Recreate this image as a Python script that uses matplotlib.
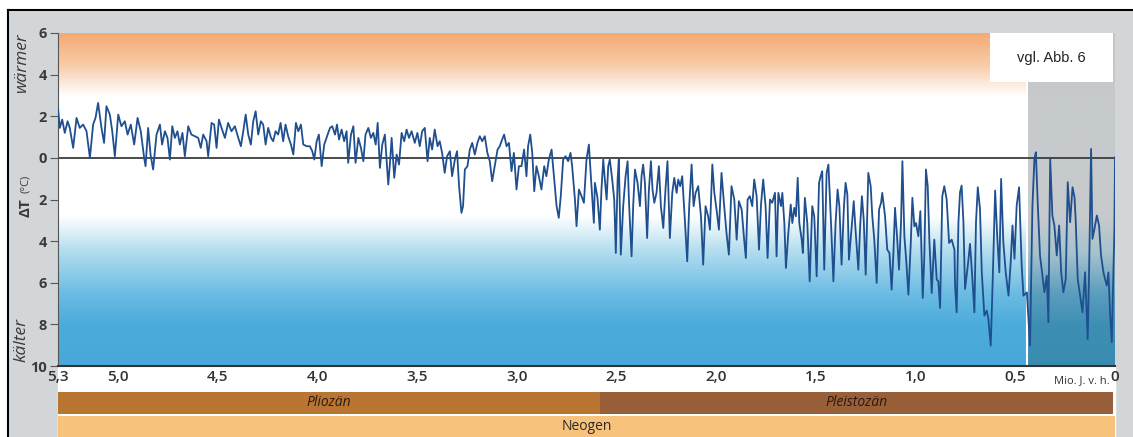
import numpy as np
import matplotlib.pyplot as plt
from matplotlib.patches import Rectangle
from matplotlib.colors import to_rgb
from matplotlib.lines import Line2D

plt.rcParams['font.family'] = ['Open Sans', 'DejaVu Sans']

# Temperaturabweichung (deg C) gegen Alter (Mio. Jahre vor heute)
plio_age = [5.300, 5.291, 5.279, 5.266, 5.252, 5.241, 5.224, 5.207, 5.191, 5.174,
            5.157, 5.140, 5.124, 5.112, 5.099, 5.082, 5.069, 5.057, 5.040, 5.028,
            5.015, 4.998, 4.982, 4.965, 4.951, 4.935, 4.918, 4.901, 4.885, 4.868,
            4.861, 4.848, 4.836, 4.823, 4.806, 4.789, 4.778, 4.764, 4.751, 4.739,
            4.727, 4.714, 4.701, 4.689, 4.676, 4.664, 4.647, 4.631, 4.614, 4.597,
            4.584, 4.572, 4.555, 4.547, 4.530, 4.517, 4.505, 4.493, 4.480, 4.463,
            4.447, 4.430,
            4.413, 4.396, 4.383, 4.371, 4.359, 4.346, 4.333, 4.321, 4.309, 4.296,
            4.283, 4.271, 4.259, 4.246, 4.232, 4.221, 4.209, 4.196, 4.184, 4.171,
            4.159, 4.146, 4.132, 4.120, 4.107, 4.095, 4.082, 4.070, 4.053, 4.037,
            4.025, 4.015, 4.003, 3.992, 3.978, 3.965, 3.948, 3.936, 3.925, 3.911,
            3.901, 3.891, 3.878, 3.865, 3.853, 3.845, 3.831, 3.819, 3.808, 3.794,
            3.781, 3.769, 3.758, 3.744, 3.731, 3.719, 3.707, 3.697, 3.686, 3.674,
            3.661, 3.652, 3.644, 3.636, 3.627, 3.614, 3.602, 3.590, 3.577, 3.564,
            3.552, 3.540, 3.527,
            3.511, 3.498, 3.486, 3.474, 3.461, 3.447, 3.436, 3.424, 3.411, 3.397,
            3.386, 3.374, 3.361, 3.349, 3.335, 3.324, 3.310, 3.299, 3.289, 3.277,
            3.269, 3.260, 3.247, 3.235, 3.223, 3.210, 3.197, 3.185, 3.173, 3.160,
            3.147, 3.135, 3.123, 3.110, 3.096, 3.085, 3.073, 3.063, 3.051, 3.039,
            3.026, 3.014, 3.001, 2.989, 2.976, 2.963, 2.951, 2.943, 2.932, 2.922,
            2.912, 2.901, 2.889, 2.876, 2.862, 2.851, 2.839, 2.825, 2.812, 2.800,
            2.789, 2.779, 2.767, 2.755, 2.742, 2.730, 2.722, 2.708, 2.700, 2.688,
            2.675, 2.663, 2.650, 2.638, 2.625, 2.613, 2.608, 2.595, 2.583]
plio_dt = [2.40, 1.44, 1.84, 1.20, 1.76, 1.44, 0.48, 1.92, 1.44, 1.60,
           1.28, 0.00, 1.60, 1.92, 2.64, 1.44, 0.72, 2.48, 2.08, 1.28,
           0.08, 2.08, 1.52, 1.76, 1.12, 1.60, 0.64, 1.92, 1.28, 0.00,
           -0.40, 1.44, 0.16, -0.56, 1.12, 1.60, 0.64, 1.28, 0.96, -0.08,
           1.52, 0.96, 1.28, 0.64, 1.20, 0.08, 1.52, 1.12, 1.04, 0.96,
           0.48, 1.12, 0.80, 0.08, 1.68, 1.60, 0.48, 1.84, 1.44, 0.96,
           1.68, 1.28,
           1.52, 0.96, 0.56, 1.28, 2.08, 1.12, 0.64, 1.76, 2.24, 1.12,
           1.76, 1.60, 0.64, 1.44, 0.96, 0.80, 1.28, 1.12, 1.68, 0.80,
           1.60, 1.04, 0.64, 0.16, 1.68, 1.28, 1.60, 0.64, 0.56, 0.56,
           0.32, -0.08, 0.80, 1.12, -0.40, 0.64, 1.12, 1.44, 1.52, 1.12,
           1.60, 0.88, 1.36, 0.80, 1.28, -0.24, 1.12, 1.52, -0.24, 0.96,
           0.48, -0.16, 1.12, 1.44, 0.96, 1.20, 0.64, 1.68, -0.48, 0.64,
           1.12, -0.16, -1.28, -0.32, 0.96, -0.96, 0.16, -0.32, 1.20, 0.80,
           1.36, 0.96, 1.28,
           0.72, 1.20, 0.56, 1.28, 1.44, -0.16, 0.96, 0.40, 1.36, 0.56,
           0.80, 0.24, -0.72, 0.08, 0.32, -0.88, -0.08, 0.32, -1.36, -2.64,
           -2.32, -0.56, -0.40, 0.40, 0.72, 0.16, 0.72, 1.04, 0.80, 1.04,
           0.24, -0.16, -1.12, -0.40, 0.40, 0.56, 0.88, 1.12, 0.56, 0.72,
           -0.64, 0.24, -1.52, -0.40, -0.40, 0.40, -0.88, 0.56, 1.12, 0.24,
           -1.60, -0.40, -0.88, -1.52, -0.40, -0.88, -0.08, 0.40, -1.04, -2.32,
           -2.88, -1.84, -0.08, 0.08, -0.16, 0.24, -0.40, -2.00, -3.28, -1.52,
           -1.84, -2.16, -0.08, 0.64, -1.36, -3.12, -1.20, -1.92, -3.45]

pleisto_age = [2.575, 2.566, 2.558, 2.549, 2.541, 2.533, 2.521, 2.511, 2.503, 2.494,
               2.488, 2.478, 2.466, 2.454, 2.444, 2.436, 2.424, 2.416, 2.407, 2.394,
               2.382, 2.374, 2.366, 2.357, 2.346, 2.337, 2.327, 2.319, 2.310, 2.299,
               2.287, 2.277, 2.265, 2.254, 2.244, 2.232, 2.220, 2.210, 2.198, 2.190,
               2.180, 2.170, 2.157, 2.145, 2.135, 2.123, 2.113, 2.103, 2.090, 2.076,
               2.065, 2.053, 2.040, 2.031, 2.019, 2.009, 1.998, 1.986, 1.973, 1.961,
               1.948, 1.936, 1.923, 1.909, 1.897, 1.886, 1.872, 1.861, 1.851, 1.842,
               1.831, 1.819, 1.809, 1.797, 1.785, 1.775, 1.764, 1.752, 1.742, 1.730,
               1.719,
               1.705, 1.697, 1.688, 1.675, 1.668, 1.658, 1.650, 1.638, 1.626, 1.618,
               1.608, 1.600, 1.591, 1.583, 1.571, 1.565, 1.555, 1.543, 1.531, 1.518,
               1.508, 1.496, 1.484, 1.476, 1.468, 1.458, 1.446, 1.437, 1.424, 1.412,
               1.401, 1.391, 1.382, 1.371, 1.359, 1.351, 1.342, 1.334, 1.320, 1.310,
               1.300, 1.287, 1.277, 1.269, 1.260, 1.250, 1.237, 1.225, 1.217, 1.207,
               1.195, 1.183, 1.173, 1.167, 1.153, 1.142, 1.131, 1.120, 1.111, 1.103,
               1.093, 1.083, 1.073, 1.066, 1.056, 1.046, 1.036, 1.024, 1.016, 1.006,
               0.998, 0.986, 0.976, 0.964, 0.956, 0.948, 0.939, 0.931, 0.919, 0.906,
               0.894, 0.886, 0.877, 0.866, 0.856, 0.844, 0.832, 0.819, 0.805,
               0.802, 0.794, 0.785, 0.777, 0.769, 0.760, 0.752, 0.738, 0.727, 0.715,
               0.705, 0.697, 0.688, 0.677, 0.668, 0.655, 0.643, 0.635, 0.623, 0.613,
               0.601, 0.590, 0.580, 0.571, 0.560, 0.548, 0.534, 0.523, 0.514, 0.504,
               0.493, 0.481, 0.468, 0.459]
pleisto_dt = [-1.52, -0.08, -1.04, -2.00, -0.40, -0.08, -1.04, -2.00, -4.57, -1.04,
              -0.08, -4.65, -2.32, -0.88, -0.16, -2.32, -4.73, -2.32, -0.56, -1.20,
              -2.32, -0.88, -0.32, -1.20, -3.85, -1.52, -0.16, -1.52, -2.16, -1.68,
              -0.40, -2.32, -3.37, -1.52, -0.16, -3.85, -1.68, -0.96, -1.68, -1.04,
              -1.36, -0.88, -2.96, -4.97, -2.32, -0.32, -2.32, -1.68, -1.36, -2.81,
              -5.13, -2.32, -2.81, -3.45, -0.32, -1.68, -2.48, -3.45, -0.72, -2.16,
              -3.61, -4.65, -1.36, -2.00, -3.93, -2.08, -2.48, -3.77, -4.81, -2.00,
              -1.84, -2.32, -1.04, -1.84, -4.41, -2.24, -1.04, -2.32, -4.81, -2.00,
              -2.16,
              -1.68, -4.73, -1.68, -2.32, -1.68, -3.13, -5.29, -3.61, -2.24, -3.13,
              -2.40, -2.81, -0.96, -3.13, -3.93, -4.57, -1.92, -3.13, -5.93, -2.32,
              -2.81, -5.69, -1.20, -0.88, -0.64, -5.37, -0.72, -0.32, -3.13, -5.93,
              -3.13, -1.52, -2.32, -5.13, -2.32, -1.20, -1.76, -4.89, -3.29, -2.08,
              -3.61, -5.37, -3.13, -1.84, -2.96, -5.61, -0.72, -1.36, -2.80, -3.93,
              -6.01, -2.48, -2.16, -1.68, -2.81, -4.41, -4.57, -6.33, -4.57, -2.40,
              -3.77, -5.37, -3.13, -0.16, -3.77, -5.05, -6.57, -4.09, -1.92, -3.29,
              -3.13, -3.77, -2.56, -6.73, -4.73, -0.56, -1.36, -3.93, -6.49, -3.93,
              -5.85, -5.93, -7.21, -1.84, -1.36, -2.00, -4.09, -3.93, -4.41,
              -6.14, -7.42, -3.09, -1.65, -1.33, -3.09, -6.30, -5.18, -4.13, -5.82,
              -7.42, -3.09, -1.41, -2.45, -5.50, -7.58, -7.34, -7.74, -9.02, -5.82,
              -1.57, -3.89, -5.50, -1.01, -4.05, -5.50, -6.62, -5.02, -3.25, -4.85,
              -2.29, -1.41, -5.18, -6.62]

# grau hinterlegter Abschnitt (vgl. Abb. 6)
late_age = [0.442, 0.426, 0.414, 0.404, 0.397, 0.387, 0.376, 0.364, 0.354, 0.342,
            0.334, 0.325, 0.314, 0.304, 0.292, 0.280, 0.270, 0.259, 0.247, 0.237,
            0.225, 0.213, 0.203, 0.197, 0.187, 0.175, 0.163, 0.150, 0.137, 0.130,
            0.120, 0.113, 0.103, 0.091, 0.080, 0.070, 0.058, 0.050, 0.041, 0.033,
            0.025, 0.016, 0.003, 0.000]
late_dt = [-6.46, -9.02, -2.29, -0.05, 0.27, -2.29, -4.69, -5.66, -6.46, -5.66,
           -7.90, -0.05, -2.77, -3.25, -4.69, -3.25, -5.50, -6.46, -5.82, -1.17,
           -3.09, -1.41, -1.89, -3.01, -5.82, -6.62, -7.42, -5.50, -8.70, -5.50,
           0.43, -3.89, -3.41, -2.77, -3.25, -4.69, -5.50, -5.82, -6.14, -5.50,
           -7.42, -8.86, -3.41, 0.03]

assert len(plio_age) == len(plio_dt)
assert len(pleisto_age) == len(pleisto_dt)
assert len(late_age) == len(late_dt)

y_ticks = [6, 4, 2, 0, -2, -4, -6, -8, -10]
y_labels = ["6", "4", "2", "0", "2", "4", "6", "8", "10"]
x_ticks = [5.3, 5.0, 4.5, 4.0, 3.5, 3.0, 2.5, 2.0, 1.5, 1.0, 0.5, 0.0]
x_labels = ["5,3", "5,0", "4,5", "4,0", "3,5", "3,0", "2,5", "2,0", "1,5", "1,0", "0,5", "0"]

epochs = ["Pliozän", "Pleistozän"]
epoch_start = [5.3, 2.58]
epoch_end = [2.58, 0.01]
epoch_colors = ["#b97632", "#995f39"]
period = "Neogen"
period_start, period_end = 5.3, 0.0
grey_from = 0.44

W, H = 1133, 437
fig = plt.figure(figsize=(W / 100, H / 100), dpi=100, facecolor="#d3d6d8")

# Rahmen oben/links
fig.patches.append(Rectangle((0, 0), 8 / W, 1, transform=fig.transFigure, color="white", zorder=-3))
fig.patches.append(Rectangle((0, 1 - 10 / H), 1, 10 / H, transform=fig.transFigure, color="white", zorder=-3))
fig.lines.append(Line2D([8 / W, 8 / W], [0, 1 - 10 / H], transform=fig.transFigure, color="black", lw=1.5))
fig.lines.append(Line2D([8 / W, 1], [1 - 10 / H, 1 - 10 / H], transform=fig.transFigure, color="black", lw=1.5))
# weisser Streifen unter der Achse
fig.patches.append(Rectangle((58 / W, 0), (1115 - 58) / W, (437 - 367) / H,
                             transform=fig.transFigure, color="white", zorder=-2))

ax = fig.add_axes([58 / W, 1 - 366 / H, (1115 - 58) / W, 333 / H])

# Farbverlauf: warm oben, kalt unten
stops = [-10, -8, -6.5, -4.5, -2.8, 3.0, 4.5, 6.0]
cols_main = ["#47a8d9", "#4cacdc", "#6cbce4", "#b2ddef", "#ffffff", "#ffffff", "#f8cba7", "#f4aa72"]
cols_grey = ["#3a8bb0", "#3e8fb4", "#5b9ebf", "#a9c3cd", "#c6cacc", "#c6cacc", "#c8c7c6", "#c9c4c0"]
yy = np.linspace(-10, 6, 400)
xx = np.linspace(5.3, 0, 1060)

def ramp(colors):
    rgb = np.array([to_rgb(c) for c in colors])
    return np.stack([np.interp(yy, stops, rgb[:, i]) for i in range(3)], axis=1)

img = np.repeat(ramp(cols_main)[:, None, :], len(xx), axis=1)
img[:, xx < grey_from, :] = ramp(cols_grey)[:, None, :]
ax.imshow(img, extent=(5.3, 0, -10, 6), origin="lower", aspect="auto", interpolation="bilinear", zorder=0)
ax.axvline(grey_from, color="white", lw=1.5, zorder=1)

ax.axhline(0, color="#3c3c3c", lw=1.3, zorder=2)
age = plio_age + pleisto_age + late_age
dt = plio_dt + pleisto_dt + late_dt
ax.plot(age, dt, color="#1f4f8e", lw=1.3, zorder=3)

ax.set_xlim(5.3, 0)
ax.set_ylim(-10, 6)
for s in ["top", "right"]:
    ax.spines[s].set_visible(False)
ax.spines["left"].set_color("#555555")
ax.spines["bottom"].set_color("#333333")
ax.spines["bottom"].set_linewidth(1.5)
ax.set_yticks(y_ticks)
ax.set_yticklabels(y_labels, fontsize=10.5, color="#3a3a3a", fontweight="bold")
ax.tick_params(axis="y", direction="out", length=6, color="#555555", pad=2)
ax.set_xticks(x_ticks)
ax.set_xticklabels(x_labels, fontsize=11, color="#333333", fontweight="semibold")
ax.tick_params(axis="x", length=0, pad=3)
ax.text(0.165, -10.45, "Mio. J. v. h.", fontsize=8, color="#333333", ha="center", va="top",
        clip_on=False)

# Hinweisfeld
ax.add_patch(Rectangle((0.882, 0.853), 0.116, 0.147, transform=ax.transAxes,
                       facecolor="white", edgecolor="none", zorder=4))
ax.text(0.940, 0.925, "vgl. Abb. 6", transform=ax.transAxes, ha="center", va="center",
        fontsize=10.5, family="Liberation Sans", color="#222222", zorder=5)

# Achsenbeschriftung links
fig.text(22 / W, 1 - 63 / H, "wärmer", rotation=90, style="italic", fontsize=12.5,
         color="#3a3a3a", ha="center", va="center")
fig.text(22 / W, 1 - 340 / H, "kälter", rotation=90, style="italic", fontsize=12.5,
         color="#3a3a3a", ha="center", va="center")
fig.text(26 / W, 1 - 208 / H, "ΔT", rotation=90, fontsize=11, fontweight="bold",
         color="#3a3a3a", ha="center", va="center")
fig.text(26 / W, 1 - 184 / H, "(°C)", rotation=90, fontsize=8,
         color="#3a3a3a", ha="center", va="center")

# Zeitskala unten
bx = fig.add_axes([58 / W, 0, (1115 - 58) / W, 45 / H])
bx.set_xlim(5.3, 0)
bx.set_ylim(0, 45)
bx.axis("off")
bx.barh(0, period_end - period_start, left=period_start, height=21, align="edge", color="#f6c27c")
bx.text((period_start + period_end) / 2, 10.5, period, ha="center", va="center",
        fontsize=10, color="#2a2a2a")
for name, a, b, c in zip(epochs, epoch_start, epoch_end, epoch_colors):
    bx.barh(23, b - a, left=a, height=22, align="edge", color=c)
    bx.text((a + b) / 2, 34, name, ha="center", va="center", style="italic",
            fontsize=10, color="#2a1a10")

fig.savefig("out.png", dpi=100, facecolor=fig.get_facecolor())
